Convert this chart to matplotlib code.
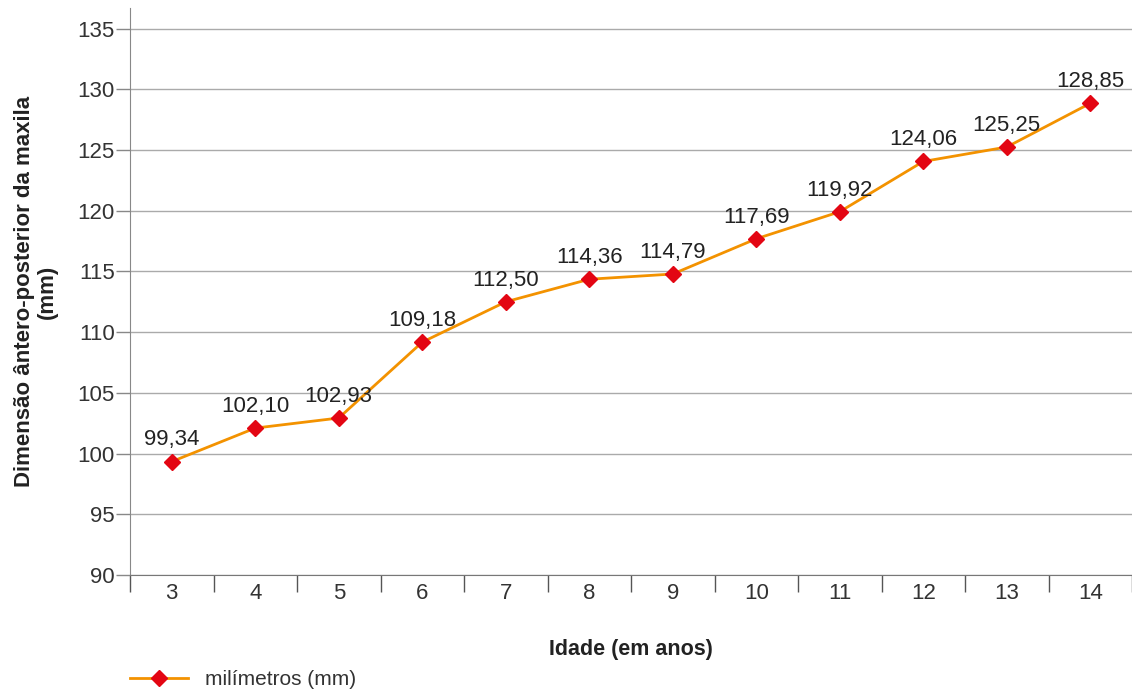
import matplotlib
matplotlib.use("Agg")
from matplotlib import pyplot as plt

# data
idades = ["3", "4", "5", "6", "7", "8", "9", "10", "11", "12", "13", "14"]
milimetros = [99.34, 102.10, 102.93, 109.18, 112.50, 114.36, 114.79, 117.69, 119.92, 124.06, 125.25, 128.85]
rotulos = ["99,34", "102,10", "102,93", "109,18", "112,50", "114,36", "114,79", "117,69", "119,92", "124,06", "125,25", "128,85"]
yticks = [90, 95, 100, 105, 110, 115, 120, 125, 130, 135]

plt.rcParams['font.family'] = ['Liberation Sans', 'DejaVu Sans']

fig = plt.figure(figsize=(11.32, 6.9), dpi=100)
ax = fig.add_axes([130 / 1132, 115 / 690, 1 - 130 / 1132, (575 - 8) / 690])

x = list(range(len(idades)))
ax.plot(x, milimetros, color='#f39200', linewidth=2, marker='D', markersize=8,
        markerfacecolor='#e30613', markeredgecolor='#e30613', label='milímetros (mm)', zorder=3)

# value labels above each point
for xi, yi, t in zip(x, milimetros, rotulos):
    ax.annotate(t, (xi, yi), xytext=(0, 8), textcoords='offset points',
                ha='center', va='bottom', fontsize=16, color='#222222')

ax.set_xlim(-0.5, len(idades) - 0.5)
ax.set_ylim(90, 136.7)
ax.set_yticks(yticks)
ax.set_yticklabels([str(v) for v in yticks], fontsize=16, color='#333333')
ax.set_xticks(x)
ax.set_xticklabels(idades, fontsize=16, color='#333333')
ax.tick_params(axis='x', length=0, pad=6)
ax.set_xticks([i - 0.5 for i in range(len(idades) + 1)], minor=True)
ax.tick_params(axis='x', which='minor', length=12, color='#555555', width=1)
ax.tick_params(axis='y', length=10, color='#888888', width=1, pad=1)

ax.grid(axis='y', color='#aaaaaa', linewidth=1)
ax.set_axisbelow(True)
for s in ['top', 'right']:
    ax.spines[s].set_visible(False)
ax.spines['left'].set_color('#888888')
ax.spines['bottom'].set_color('#777777')

ax.set_xlabel('Idade (em anos)', fontsize=15.5, fontweight='bold', labelpad=25, color='#222222')
ax.set_ylabel('Dimensão ântero-posterior da maxila\n(mm)', fontsize=16, fontweight='bold',
              color='#222222', labelpad=14, linespacing=1.1)

ax.legend(loc='center left', bbox_to_anchor=(0.0, -0.185), frameon=False, fontsize=15,
          handlelength=2.8, handletextpad=0.8, labelcolor='#333333', borderaxespad=0, borderpad=0)

fig.savefig('out.png', dpi=100)
